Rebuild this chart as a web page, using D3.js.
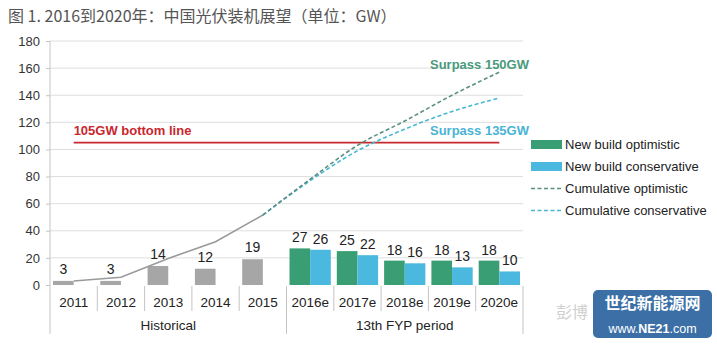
<!DOCTYPE html>
<html><head><meta charset="utf-8">
<script src="https://cdn.jsdelivr.net/npm/d3@7"></script>
<style>body{margin:0;background:#fff}svg{display:block;font-family:"Liberation Sans",Arial,sans-serif}</style>
</head><body><svg id="c" width="717" height="345"></svg>
<script>
const years = ['2011','2012','2013','2014','2015','2016e','2017e','2018e','2019e','2020e'];
const histYears = ['2011','2012','2013','2014','2015'];
const fcstYears = ['2016e','2017e','2018e','2019e','2020e'];
const historical = [3,3,14,12,19];
const newOptimistic = [27,25,18,18,18];
const newConservative = [26,22,16,13,10];
const cumHistorical = [3,5.7,19.6,31.9,51.6];
const cumYears = ['2015','2016e','2017e','2018e','2019e','2020e'];
const cumOptimistic = [51.6,78,103,121,140,157];
const cumConservative = [51.6,77,99,115,128,138];
const yTicks = [0,20,40,60,80,100,120,140,160,180];
const bottomLine = 105;
const groups = [{name:'Historical',from:'2011',to:'2015'},{name:'13th FYP period',from:'2016e',to:'2020e'}];

const C = {gray:'#a6a6a6', green:'#3a9e74', blue:'#4bb8e0', red:'#c8282e', optLine:'#5a8f82', consLine:'#46b8d2', grid:'#dedede', axis:'#c4c4c4', text:'#222'};

const svg = d3.select('#c');
const x = d3.scaleBand().domain(years).range([50,523]).padding(0);
const y = d3.scaleLinear().domain([0,180]).range([285,41]);
const slot = d3.scaleBand().domain(['a','b']).range([3, x.bandwidth()-3]).padding(0);
const cx = d => x(d) + x.bandwidth()/2;

// title
svg.append('text').attr('x',8).attr('y',22).attr('font-family','"Noto Sans CJK SC",sans-serif')
  .attr('font-size',16).attr('fill','#555').text('图 1. 2016到2020年：中国光伏装机展望（单位：GW）');

// gridlines
svg.append('g').selectAll('line').data(yTicks.filter(t=>t>0)).join('line')
  .attr('x1',50).attr('x2',523).attr('y1',d=>y(d)).attr('y2',d=>y(d)).attr('stroke',C.grid).attr('stroke-width',1);

// y axis
const ya = svg.append('g').attr('transform','translate(50,0)')
  .call(d3.axisLeft(y).tickValues(yTicks).tickSize(4).tickPadding(6));
ya.select('.domain').remove();
ya.selectAll('line').attr('stroke',C.axis);
ya.selectAll('text').attr('font-size',13).attr('fill','#333').attr('font-family','"Liberation Sans",Arial,sans-serif');
svg.append('line').attr('x1',50).attr('x2',50).attr('y1',41).attr('y2',334).attr('stroke',C.axis);

// x axis labels and separators
svg.append('g').selectAll('text').data(years).join('text')
  .attr('x',d=>cx(d)).attr('y',307).attr('text-anchor','middle').attr('font-size',13.5).attr('fill',C.text).text(d=>d);
svg.append('g').selectAll('line').data(years.slice(1)).join('line')
  .attr('x1',d=>x(d)).attr('x2',d=>x(d)).attr('y1',286)
  .attr('y2',d=>d==='2016e'?334:311).attr('stroke',C.axis);
svg.append('line').attr('x1',523).attr('x2',523).attr('y1',286).attr('y2',334).attr('stroke',C.axis);
groups.forEach(g=>{
  const a = x(g.from), b = x(g.to)+x.bandwidth();
  svg.append('text').attr('x',(a+b)/2).attr('y',330).attr('text-anchor','middle').attr('font-size',13.5).attr('fill',C.text).text(g.name);
});

// bars
const bars = svg.append('g');
bars.selectAll('.h').data(histYears).join('rect')
  .attr('x',(d)=>x(d)+slot('a')).attr('width',slot.bandwidth())
  .attr('y',(d,i)=>y(historical[i])).attr('height',(d,i)=>y(0)-y(historical[i])).attr('fill',C.gray);
bars.selectAll('.o').data(fcstYears).join('rect')
  .attr('x',(d)=>x(d)+slot('a')).attr('width',slot.bandwidth())
  .attr('y',(d,i)=>y(newOptimistic[i])).attr('height',(d,i)=>y(0)-y(newOptimistic[i])).attr('fill',C.green);
bars.selectAll('.c').data(fcstYears).join('rect')
  .attr('x',(d)=>x(d)+slot('b')).attr('width',slot.bandwidth())
  .attr('y',(d,i)=>y(newConservative[i])).attr('height',(d,i)=>y(0)-y(newConservative[i])).attr('fill',C.blue);

// value labels
const lab = svg.append('g').attr('font-size',14).attr('fill',C.text).attr('text-anchor','middle');
histYears.forEach((d,i)=>lab.append('text').attr('x',x(d)+slot('a')+slot.bandwidth()/2).attr('y',y(historical[i])-7).text(historical[i]));
fcstYears.forEach((d,i)=>{
  lab.append('text').attr('x',x(d)+slot('a')+slot.bandwidth()/2).attr('y',y(newOptimistic[i])-6).text(newOptimistic[i]);
  lab.append('text').attr('x',x(d)+slot('b')+slot.bandwidth()/2).attr('y',y(newConservative[i])-6).text(newConservative[i]);
});

// 105GW line
svg.append('line').attr('x1',cx('2011')).attr('x2',cx('2020e')).attr('y1',y(bottomLine)).attr('y2',y(bottomLine))
  .attr('stroke',C.red).attr('stroke-width',1.8);
svg.append('text').attr('x',cx('2011')).attr('y',y(bottomLine)-8).attr('font-size',13).attr('font-weight','bold')
  .attr('fill',C.red).text('105GW bottom line');

// cumulative lines
const lineH = d3.line().x(d=>cx(d[0])).y(d=>y(d[1]));
const lineF = d3.line().x(d=>cx(d[0])).y(d=>y(d[1])).curve(d3.curveMonotoneX);
svg.append('path').attr('d',lineH(histYears.map((d,i)=>[d,cumHistorical[i]])))
  .attr('fill','none').attr('stroke','#9a9a9a').attr('stroke-width',1.6);
svg.append('path').attr('d',lineF(cumYears.map((d,i)=>[d,cumConservative[i]])))
  .attr('fill','none').attr('stroke',C.consLine).attr('stroke-width',1.6).attr('stroke-dasharray','4,2.5');
svg.append('path').attr('d',lineF(cumYears.map((d,i)=>[d,cumOptimistic[i]])))
  .attr('fill','none').attr('stroke',C.optLine).attr('stroke-width',1.6).attr('stroke-dasharray','4,2.5');

svg.append('text').attr('x',529).attr('y',69).attr('text-anchor','end').attr('font-size',13).attr('font-weight','bold')
  .attr('fill','#4a9a7c').text('Surpass 150GW');
svg.append('text').attr('x',529).attr('y',135).attr('text-anchor','end').attr('font-size',13).attr('font-weight','bold')
  .attr('fill','#4ab4d6').text('Surpass 135GW');

// legend
const legend = [
  {label:'New build optimistic', type:'rect', color:C.green},
  {label:'New build conservative', type:'rect', color:C.blue},
  {label:'Cumulative optimistic', type:'dash', color:C.optLine},
  {label:'Cumulative conservative', type:'dash', color:C.consLine}
];
const lg = svg.append('g');
legend.forEach((l,i)=>{
  const yy = 144.5 + i*22;
  if(l.type==='rect') lg.append('rect').attr('x',531).attr('y',yy-4.5).attr('width',31).attr('height',9).attr('fill',l.color);
  else lg.append('line').attr('x1',531).attr('x2',562).attr('y1',yy).attr('y2',yy).attr('stroke',l.color).attr('stroke-width',1.6).attr('stroke-dasharray','4,2.5');
  lg.append('text').attr('x',565).attr('y',yy+4.5).attr('font-size',13).attr('fill',C.text).text(l.label);
});

// watermark
svg.append('text').attr('x',556).attr('y',318).attr('font-family','"Noto Sans CJK SC",sans-serif').attr('font-size',16)
  .attr('fill','#cfcfcf').text('彭博');
svg.append('rect').attr('x',593).attr('y',290).attr('width',119).attr('height',48).attr('rx',5).attr('fill','#3b6fa6');
svg.append('text').attr('x',652.5).attr('y',309).attr('text-anchor','middle').attr('font-family','"Noto Sans CJK SC",sans-serif')
  .attr('font-size',16).attr('font-weight','bold').attr('fill','#fff').text('世纪新能源网');
const w = svg.append('text').attr('x',652.5).attr('y',333).attr('text-anchor','middle').attr('font-size',12.5).attr('fill','#fff');
w.append('tspan').text('www.');
w.append('tspan').attr('font-weight','bold').text('NE21');
w.append('tspan').text('.com');
</script></body></html>
